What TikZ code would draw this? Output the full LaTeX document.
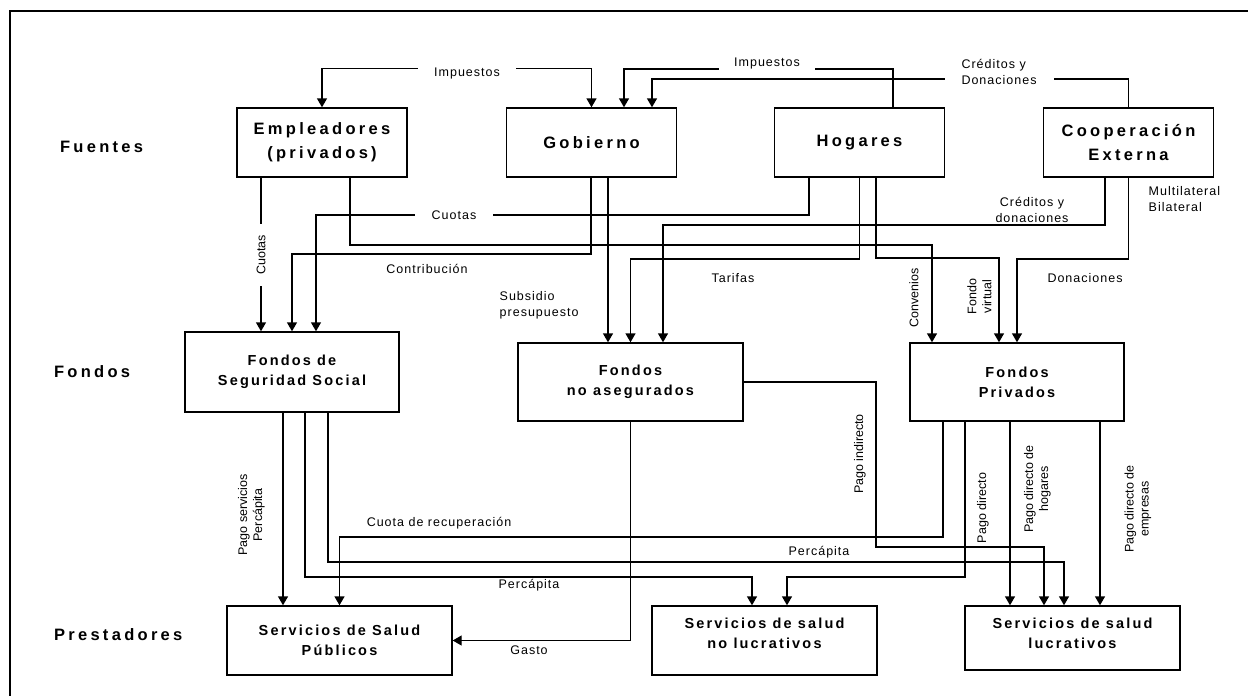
\documentclass[tikz,border=0pt]{standalone}
\usepackage{fontspec}
\setmainfont{Liberation Sans}
\newfontfamily\anchafont[LetterSpace=20]{Liberation Sans}
\newfontfamily\mediafont[LetterSpace=15]{Liberation Sans}
\newfontfamily\etqfont[LetterSpace=8]{Liberation Sans}
\usetikzlibrary{arrows.meta,positioning,calc}

\begin{document}
\begin{tikzpicture}[x=1pt, y=-1pt, line width=1.4pt,
        caja/.style={draw, line width=1.4pt, align=center, inner sep=0pt},
        fuente/.style={caja, minimum width=170, minimum height=69,
                font=\anchafont\bfseries\fontsize{16.5}{24}\selectfont},
        fondo/.style={caja, minimum width=214, minimum height=78,
                font=\mediafont\bfseries\fontsize{14.5}{20}\selectfont},
        prest/.style={fondo, minimum width=225, minimum height=69},
        fila/.style={anchor=west, font=\anchafont\bfseries\fontsize{16.5}{20}\selectfont},
        etq/.style={font=\etqfont\fontsize{12.5}{16}\selectfont, inner sep=1pt, align=center},
        corte/.style={etq, fill=white},
        vert/.style={font=\fontsize{12.5}{15}\selectfont, rotate=90, inner sep=1pt, align=center}]
    \tikzset{>={Triangle[length=9pt, width=10pt]}}

    \useasboundingbox (0,0) rectangle (1248,696);
    \draw[line width=2pt] (1260,11) -- (10,11) -- (10,710);

    % ---- FUENTES ----
    \node[fila] (tFue) at (56,147) {Fuentes};
    \node[fuente] (emp) at (322,142.5) {Empleadores\\(privados)};
    \node[fuente] (gob) at (591.5,142.5) {Gobierno};
    \node[fuente] (hog) at (859.5,142.5) {Hogares};
    \node[fuente] (coop) at (1128.5,142.5) {Cooperación\\Externa};

    % ---- FONDOS ----
    \node[fila] (tFon) at (50,372) {Fondos};
    \node[fondo, minimum height=80] (fss) at (292,372) {Fondos de\\Seguridad Social};
    \node[fondo, minimum width=225] (fna) at (630.5,382) {Fondos\\no asegurados};
    \node[fondo] (fpriv) at (1017,382) {Fondos\\Privados};

    % ---- PRESTADORES ----
    \node[fila] (tPre) at (50,635) {Prestadores};
    \node[prest] (ssp) at (339.5,640.5) {Servicios de Salud\\Públicos};
    \node[prest] (snl) at (764.5,640.5) {Servicios de salud\\no lucrativos\\[-5pt]\mbox{}};
    \node[prest, minimum width=215, minimum height=64] (sl) at (1072.5,638) {Servicios de salud\\lucrativos\\[-10pt]\mbox{}};

    % fuentes -> fuentes
    \draw[<->] (emp.north) -- ++(0,-39) -| (gob.north);
    \draw[->] (hog.north -| 893,0) |- (624,69) -- (gob.north -| 624,0);
    \draw[->] (coop.north) |- (652,79) -- (gob.north -| 652,0);

    % bajadas directas
    \foreach \a/\b/\x in {emp/fss/261, gob/fna/608, fss/ssp/283, fpriv/sl/1010, fpriv/sl/1100} {
            \draw[->] (\a.south -| \x,0) -- (\b.north -| \x,0);
        }

    % fuentes -> fondos
    \draw[->] (emp.south -| 350,0) |- (932,245) -- (fpriv.north -| 932,0);
    \draw[->] (hog.south -| 809,0) |- (316,215) -- (fss.north -| 316,0);
    \draw[->] (gob.south -| 591,0) |- (fss.north |- 0,254) -- (fss.north);
    \draw[->] (hog.south) |- (fna.north |- 0,259) -- (fna.north);
    \draw[->] (coop.south -| 1105,0) |- (663,225) -- (fna.north -| 663,0);
    \draw[->] (hog.south -| 876,0) |- (999,258) -- (fpriv.north -| 999,0);
    \draw[->] (coop.south) |- (fpriv.north |- 0,259) -- (fpriv.north);

    % fondos -> prestadores
    \draw[->] (fss.south -| 305,0) |- (752,577) -- (snl.north -| 752,0);
    \draw[->] (fss.south -| 328,0) |- (1064,562) -- (sl.north -| 1064,0);
    \draw[->] (fpriv.south -| 943,0) |- (ssp.north |- 0,537) -- (ssp.north);
    \draw[->] (fna.south) |- (ssp.east);
    \draw[->] (fna.east) -| (876,547) -| (sl.north -| 1044,0);
    \draw[->] (fpriv.south -| 965,0) |- (787,577) -- (snl.north -| 787,0);

    % etiquetas
    \node[corte, inner xsep=16] (lImpA) at (467,73) {Impuestos};
    \node[corte, inner xsep=15] (lImpB) at (767,63) {Impuestos};
    \node[corte, inner xsep=17, align=left] (lCredA) at (999,72) {Créditos y\\Donaciones};
    \node[corte, inner xsep=17] (lCuoH) at (454,215) {Cuotas};
    \node[vert, fill=white, inner xsep=11] (lCuoV) at (261,255) {Cuotas};
    \node[etq] (lContr) at (427,269) {Contribución};
    \node[etq, anchor=west, align=left] (lSubs) at (498,305.5) {Subsidio\\presupuesto};
    \node[etq] (lTar) at (733,278) {Tarifas};
    \node[etq] (lCredB) at (1032,210) {Créditos y\\donaciones};
    \node[etq, anchor=west, align=left] (lMulti) at (1147,199) {Multilateral\\Bilateral};
    \node[vert] (lConv) at (914,298) {Convenios};
    \node[vert] (lFvir) at (979.5,296.5) {Fondo\\virtual};
    \node[etq] (lDon) at (1085,278) {Donaciones};
    \node[vert] (lPagoS) at (251.5,515) {Pago servicios\\Percápita};
    \node[etq] (lCuoR) at (439,523) {Cuota de recuperación};
    \node[etq] (lPerA) at (529,585) {Percápita};
    \node[etq] (lPerB) at (819,552) {Percápita};
    \node[etq] (lGasto) at (529,650) {Gasto};
    \node[vert] (lPagoI) at (860,454) {Pago indirecto};
    \node[vert] (lPagoD) at (983,508) {Pago directo};
    \node[vert] (lPagoH) at (1037.5,489) {Pago directo de\\hogares};
    \node[vert] (lPagoE) at (1138,509) {Pago directo de\\empresas};

\end{tikzpicture}
\end{document}
